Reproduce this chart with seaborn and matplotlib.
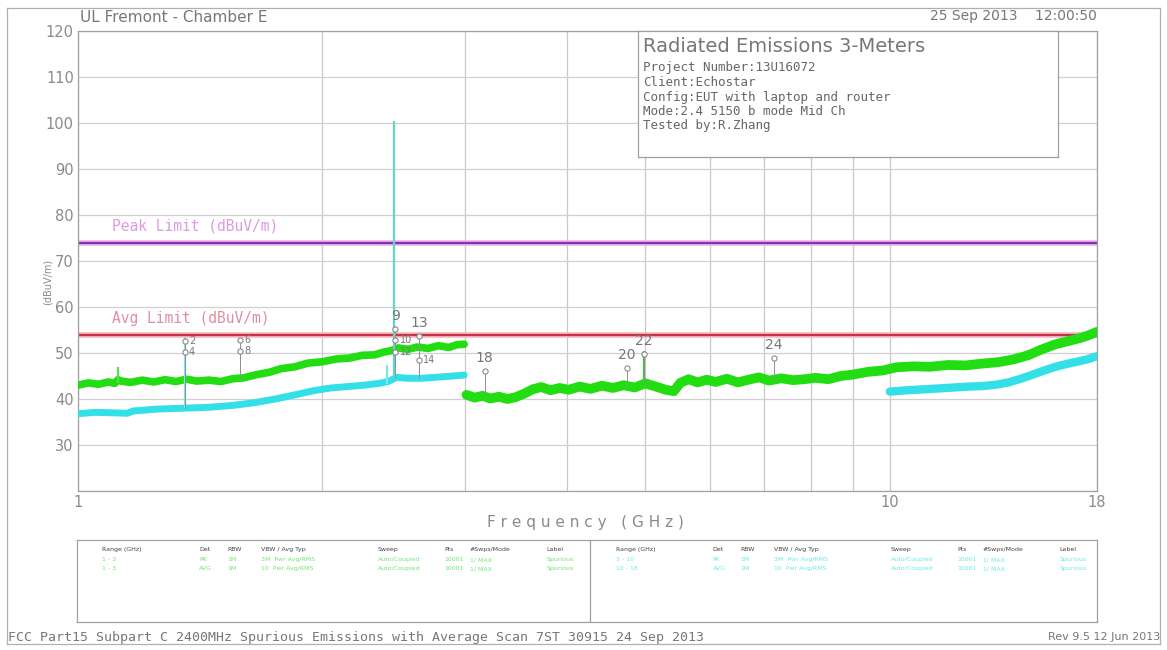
import numpy as np
import pandas as pd
import matplotlib.pyplot as plt
import seaborn as sns

# peak trace, 1-3 GHz
green_f1 = [1.00, 1.03, 1.06, 1.09, 1.11, 1.12, 1.13, 1.16, 1.20, 1.24, 1.28, 1.32, 1.36, 1.40, 1.45,
            1.50, 1.55, 1.60, 1.66, 1.72, 1.78, 1.85, 1.92, 2.00, 2.08, 2.16, 2.24, 2.32, 2.38,
            2.43, 2.48, 2.55, 2.62, 2.70, 2.78, 2.86, 2.93, 2.99]
green_v1 = [43.0, 43.5, 43.2, 43.7, 43.4, 44.2, 43.9, 43.6, 44.1, 43.7, 44.2, 43.8, 44.3, 43.9, 44.1,
            43.8, 44.4, 44.6, 45.3, 45.8, 46.6, 47.0, 47.8, 48.1, 48.7, 48.9, 49.5, 49.6, 50.2,
            50.5, 51.1, 50.8, 51.3, 51.0, 51.6, 51.2, 51.8, 51.9]

# peak trace, 3-18 GHz
green_f2 = [3.01, 3.08, 3.15, 3.22, 3.30, 3.38, 3.46, 3.55, 3.63, 3.72, 3.82, 3.92, 4.02, 4.15,
            4.28, 4.42, 4.56, 4.70, 4.85, 5.00, 5.15, 5.30, 5.42, 5.52, 5.65, 5.80, 5.95, 6.10,
            6.30, 6.50, 6.70, 6.90, 7.10, 7.35, 7.60, 7.85, 8.10, 8.40, 8.70, 9.00, 9.40, 9.80,
            10.2, 10.7, 11.2, 11.8, 12.4, 13.0, 13.6, 14.2, 14.8, 15.4, 16.0, 16.6, 17.2, 17.6, 18.0]
green_v2 = [40.9, 40.3, 40.7, 40.1, 40.5, 40.0, 40.4, 41.2, 42.1, 42.6, 41.9, 42.4, 42.0, 42.7,
            42.2, 42.9, 42.4, 43.0, 42.5, 43.4, 42.7, 42.0, 41.7, 43.5, 44.3, 43.6, 44.2, 43.7,
            44.4, 43.6, 44.2, 44.7, 44.0, 44.5, 44.1, 44.3, 44.6, 44.3, 45.0, 45.3, 45.9, 46.2,
            46.9, 47.1, 47.0, 47.4, 47.3, 47.7, 48.0, 48.6, 49.5, 50.8, 51.9, 52.6, 53.3, 53.9, 54.6]

# average trace, 1-3 GHz and 10-18 GHz
cyan_f1 = [1.00, 1.05, 1.10, 1.15, 1.17, 1.25, 1.35, 1.45, 1.55, 1.65, 1.75, 1.85, 1.95,
           2.05, 2.15, 2.25, 2.35, 2.41, 2.47, 2.55, 2.65, 2.75, 2.85, 2.99]
cyan_v1 = [36.8, 37.1, 37.0, 36.9, 37.4, 37.8, 38.0, 38.2, 38.6, 39.2, 40.0, 40.9, 41.8,
           42.4, 42.7, 43.0, 43.4, 43.8, 44.7, 44.5, 44.5, 44.7, 44.9, 45.2]
cyan_f3 = [10.0, 10.5, 11.0, 11.5, 12.0, 12.5, 13.0, 13.5, 14.0, 14.5, 15.0, 15.5, 16.0,
           16.5, 17.0, 17.5, 18.0]
cyan_v3 = [41.6, 41.9, 42.1, 42.3, 42.5, 42.7, 42.8, 43.1, 43.6, 44.4, 45.3, 46.2, 47.0,
           47.6, 48.1, 48.6, 49.3]

# narrow spikes: freq, bottom, top
spike_f = [1.354, 1.12, 2.40, 2.45, 4.98]
spike_lo = [38.0, 43.5, 43.3, 44.5, 43.0]
spike_hi = [53.5, 47.0, 47.5, 100.5, 50.5]
spike_c = ['#7fe6e6', '#55dd55', '#7fe6e6', '#5fd8c8', '#33cc33']

# markers: freq, level, base, label, label side (0 above, 1 right)
mk_f = [1.354, 1.354, 1.583, 1.583, 2.46, 2.46, 2.46, 2.63, 2.63, 3.17, 4.74, 4.98, 7.20]
mk_v = [52.6, 50.2, 52.8, 50.4, 55.3, 52.8, 50.3, 53.7, 48.4, 46.1, 46.7, 49.8, 49.0]
mk_base = [38.0, 38.0, 44.6, 44.6, 44.7, 44.7, 44.7, 44.5, 44.5, 40.5, 42.8, 43.0, 44.2]
mk_lab = ['2', '4', '6', '8', '9', '10', '12', '13', '14', '18', '20', '22', '24']
mk_side = [1, 1, 1, 1, 0, 1, 1, 0, 1, 0, 0, 0, 0]

peak_limit = 74
avg_limit = 54
yticks = [20, 30, 40, 50, 60, 70, 80, 90, 100, 110, 120]
xgrid = [1, 2, 3, 4, 5, 6, 7, 8, 9, 10, 18]

info_lines = ['Project Number:13U16072', 'Client:Echostar', 'Config:EUT with laptop and router',
              'Mode:2.4 5150 b mode Mid Ch', 'Tested by:R.Zhang']
tbl_cols = ['Range (GHz)', 'Det', 'RBW', 'VBW / Avg Typ', 'Sweep', 'Pts', '#Swps/Mode', 'Label']
tbl_x = [0.025, 0.12, 0.147, 0.18, 0.295, 0.36, 0.385, 0.46]
tbl_left = [['1 - 3', 'PK', '1M', '3M  Pwr Avg/RMS', 'Auto/Coupled', '10001', '1/ MAX', 'Spurious'],
            ['1 - 3', 'AVG', '1M', '10  Pwr Avg/RMS', 'Auto/Coupled', '10001', '1/ MAX', 'Spurious']]
tbl_right = [['3 - 10', 'PK', '1M', '3M  Pwr Avg/RMS', 'Auto/Coupled', '10001', '1/ MAX', 'Spurious'],
             ['10 - 18', 'AVG', '1M', '10  Pwr Avg/RMS', 'Auto/Coupled', '10001', '1/ MAX', 'Spurious']]

sns.set_style('white')
plt.rcParams['font.family'] = ['DejaVu Sans']
txt = '#8a8a8a'
mono = 'DejaVu Sans Mono'

W, H = 1167, 650
fig = plt.figure(figsize=(W / 100, H / 100), dpi=100)

# outer frame
frame = fig.add_axes([7 / W, 1 - 644 / H, (1160 - 7) / W, (644 - 8) / H], zorder=-5)
frame.set_xticks([])
frame.set_yticks([])
for s in frame.spines.values():
    s.set_color('#b0b0b0')
    s.set_linewidth(0.9)

ax = fig.add_axes([78 / W, 1 - 491 / H, (1097 - 78) / W, (491 - 31) / H])
ax.set_xscale('log')

for x in xgrid:
    ax.axvline(x, color='#c8c8c8', lw=0.9, zorder=0)
for y in yticks:
    ax.axhline(y, color='#d0d0d0', lw=0.9, zorder=0)

sns.lineplot(x=green_f1, y=green_v1, ax=ax, color='#22dd11', lw=5.5, sort=False, zorder=3)
sns.lineplot(x=green_f2, y=green_v2, ax=ax, color='#22dd11', lw=7, sort=False, zorder=3)
sns.lineplot(x=cyan_f1, y=cyan_v1, ax=ax, color='#33e0e8', lw=5, sort=False, zorder=4)
sns.lineplot(x=cyan_f3, y=cyan_v3, ax=ax, color='#33e0e8', lw=6, sort=False, zorder=4)
ax.vlines(spike_f, spike_lo, spike_hi, colors=spike_c, lw=1.6, zorder=5)

ax.axhline(peak_limit, color='#e8b0f0', lw=4, zorder=2)
ax.axhline(peak_limit, color='#8a2fa8', lw=1.6, zorder=2)
ax.axhline(avg_limit, color='#f3b8c0', lw=4, zorder=2)
ax.axhline(avg_limit, color='#c83245', lw=1.6, zorder=2)
ax.text(1.10, peak_limit + 2.6, 'Peak Limit (dBuV/m)', color='#d070d8', fontsize=10.5,
        family=mono, alpha=0.7)
ax.text(1.10, avg_limit + 2.6, 'Avg Limit (dBuV/m)', color='#d0607a', fontsize=10.5,
        family=mono, alpha=0.7)

ax.vlines(mk_f, mk_base, mk_v, colors='#909090', lw=0.7, zorder=6)
sns.scatterplot(x=mk_f, y=mk_v, ax=ax, marker='o', s=14, facecolor='white',
                edgecolor='#888888', linewidth=0.8, zorder=7)
for f, v, lab, side in zip(mk_f, mk_v, mk_lab, mk_side):
    if side == 0:
        ax.text(f, v + 1.3, lab, ha='center', va='bottom', fontsize=10, color='#777777', zorder=8)
    else:
        ax.text(f * 1.012, v, lab, ha='left', va='center', fontsize=7, color='#777777', zorder=8)

ax.set_xlim(1, 18)
ax.set_ylim(20, 120)
ax.set_xticks([1, 10, 18])
ax.set_xticklabels(['1', '10', '18'])
ax.xaxis.set_minor_locator(plt.NullLocator())
ax.set_yticks(yticks)
ax.set_yticklabels([''] + [str(v) for v in yticks[1:]])
ax.tick_params(axis='both', length=0, labelsize=10.5, labelcolor=txt, pad=3)
for s in ax.spines.values():
    s.set_color('#a0a0a0')
    s.set_linewidth(0.9)

fig.text(48 / W, 1 - 282 / H, '(dBuV/m)', rotation=90, fontsize=7, color=txt, ha='center', va='center')
fig.text(585 / W, 1 - 523 / H, 'F r e q u e n c y   ( G H z )', fontsize=11, color=txt,
         ha='center', va='center')
fig.text(80 / W, 1 - 18 / H, 'UL Fremont - Chamber E', fontsize=11, color='#777777', va='center')
fig.text(1097 / W, 1 - 16 / H, '25 Sep 2013    12:00:50', fontsize=10, color='#777777',
         ha='right', va='center')
fig.text(8 / W, 1 - 637 / H, 'FCC Part15 Subpart C 2400MHz Spurious Emissions with Average Scan 7ST 30915 24 Sep 2013',
         fontsize=9.5, family=mono, color='#777777', va='center')
fig.text(1160 / W, 1 - 637 / H, 'Rev 9.5 12 Jun 2013', fontsize=8, color='#777777',
         ha='right', va='center')

# info box on top of the plot
bx0, bx1, by0, by1 = 638, 1058, 31, 157
box = fig.add_axes([bx0 / W, 1 - by1 / H, (bx1 - bx0) / W, (by1 - by0) / H], zorder=10)
box.set_facecolor('white')
box.set_xticks([])
box.set_yticks([])
box.set_xlim(0, bx1 - bx0)
box.set_ylim(by1 - by0, 0)
for s in box.spines.values():
    s.set_color('#a0a0a0')
    s.set_linewidth(0.9)
box.text(5, 15, 'Radiated Emissions 3-Meters', fontsize=14, color='#777777', va='center')
for i, line in enumerate(info_lines):
    box.text(5, 37 + i * 14.5, line, fontsize=9, family=mono, color='#666666', va='center')

# settings table
tax = fig.add_axes([77 / W, 1 - 622 / H, (1097 - 77) / W, (622 - 540) / H])
tax.set_xlim(0, 1)
tax.set_ylim(0, 1)
tax.set_xticks([])
tax.set_yticks([])
for s in tax.spines.values():
    s.set_color('#a0a0a0')
    s.set_linewidth(0.9)
tax.axvline((590 - 77) / 1020, color='#a0a0a0', lw=0.9)
for half, rows, col in [(0.0, tbl_left, '#6ee86e'), (0.503, tbl_right, '#6ee8e8')]:
    for x, c in zip(tbl_x, tbl_cols):
        tax.text(half + x, 0.88, c, fontsize=4.5, color='#444444', va='center')
    for r, row in enumerate(rows):
        for x, c in zip(tbl_x, row):
            tax.text(half + x, 0.76 - r * 0.11, c, fontsize=4.5, color=col, va='center')

fig.savefig('out.png', dpi=100)
